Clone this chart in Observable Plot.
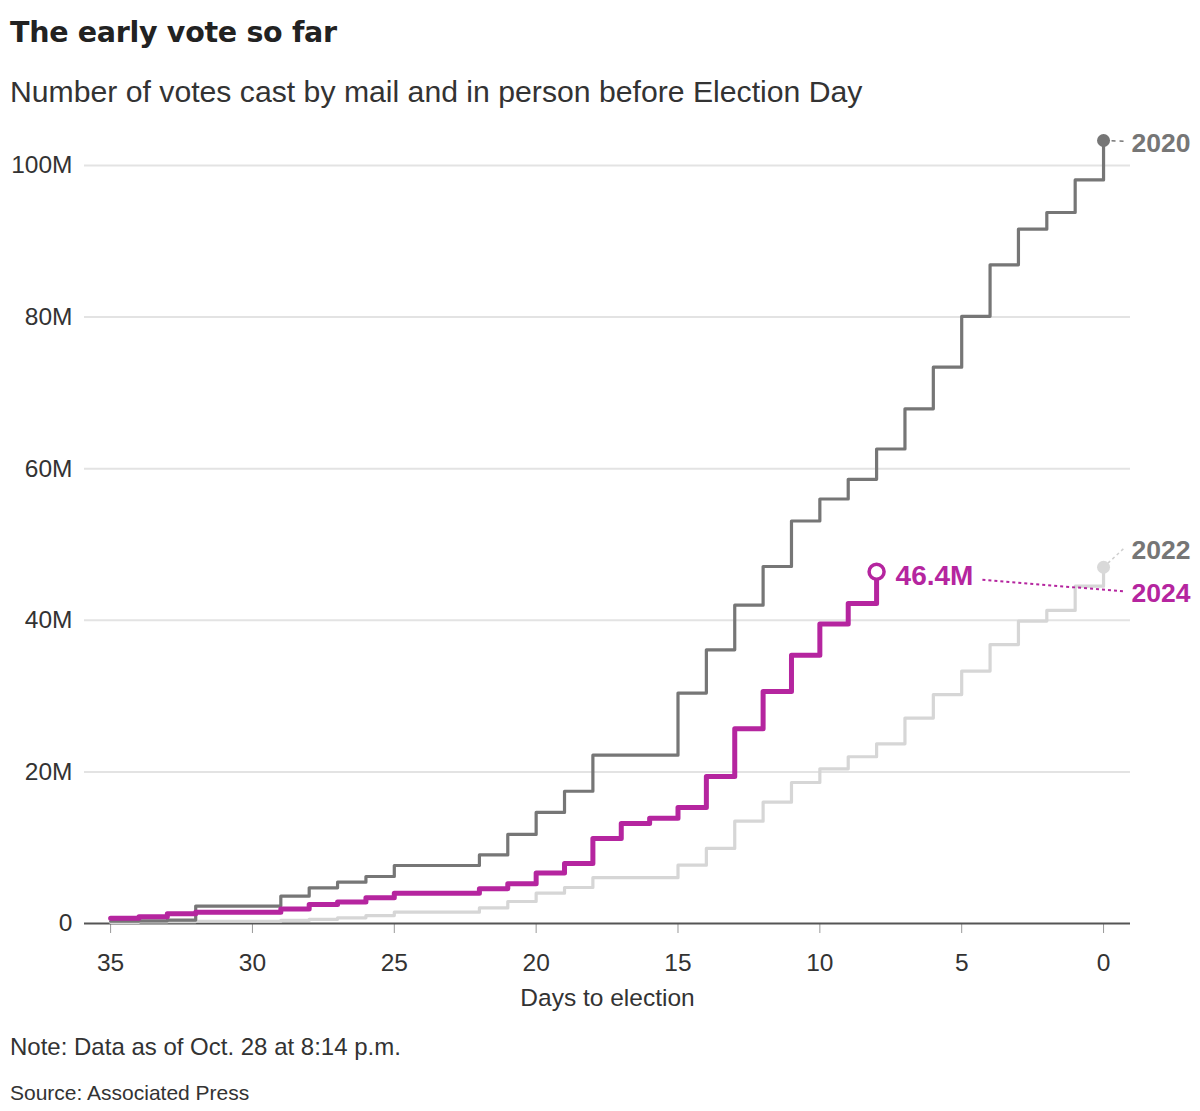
<!DOCTYPE html>
<html>
<head>
<meta charset="utf-8">
<script src="https://cdn.jsdelivr.net/npm/d3@7"></script>
<script src="https://cdn.jsdelivr.net/npm/@observablehq/plot@0.6"></script>
<style>
  body { margin: 0; background: #fff; width: 1200px; height: 1111px; position: relative; overflow: hidden; font-family: "Liberation Sans", Arial, sans-serif; color: #333; }
  #title { position: absolute; left: 10px; top: 19px; font: bold 28.5px/28.5px "DejaVu Sans", sans-serif; color: #222; letter-spacing: -0.3px; white-space: nowrap; }
  #subtitle { position: absolute; left: 10px; top: 77px; font: 30.2px/30.2px "Liberation Sans", Arial, sans-serif; color: #333; white-space: nowrap; }
  #chart { position: absolute; left: 0; top: 120px; }
  #note { position: absolute; left: 10px; top: 1035px; font: 24px/24px "Liberation Sans", Arial, sans-serif; color: #333; white-space: nowrap; }
  #source { position: absolute; left: 10px; top: 1082px; font: 21px/21px "Liberation Sans", Arial, sans-serif; color: #333; white-space: nowrap; }
</style>
</head>
<body>
<div id="title">The early vote so far</div>
<div id="subtitle">Number of votes cast by mail and in person before Election Day</div>
<div id="chart"></div>
<div id="note">Note: Data as of Oct. 28 at 8:14 p.m.</div>
<div id="source">Source: Associated Press</div>
<script>
// Days to election (35 -> 0)
const days = [35, 34, 33, 32, 31, 30, 29, 28, 27, 26, 25, 24, 23, 22, 21, 20, 19, 18,
              17, 16, 15, 14, 13, 12, 11, 10, 9, 8, 7, 6, 5, 4, 3, 2, 1, 0];
// Cumulative early votes, millions
const votes2020 = [0.3, 0.35, 0.45, 2.3, 2.3, 2.3, 3.6, 4.7, 5.45, 6.2, 7.65, 7.65, 7.65, 9.05,
                   11.75, 14.65, 17.45, 22.2, 22.2, 22.2, 30.4, 36.1, 42.0, 47.1, 53.1, 56.0,
                   58.6, 62.6, 67.9, 73.4, 80.1, 86.9, 91.6, 93.8, 98.1, 103.3];
const votes2022 = [0.15, 0.2, 0.25, 0.3, 0.3, 0.3, 0.4, 0.55, 0.75, 1.05, 1.5, 1.5, 1.5, 2.05,
                   2.9, 4.0, 4.75, 6.05, 6.05, 6.05, 7.7, 9.9, 13.5, 16.0, 18.6, 20.4, 22.0,
                   23.7, 27.1, 30.2, 33.3, 36.8, 39.9, 41.3, 44.5, 47.0];
const days2024 = [35, 34, 33, 32, 31, 30, 29, 28, 27, 26, 25, 24, 23, 22, 21, 20, 19, 18,
                  17, 16, 15, 14, 13, 12, 11, 10, 9, 8];
const votes2024 = [0.7, 0.9, 1.3, 1.5, 1.5, 1.5, 1.9, 2.5, 2.85, 3.4, 4.0, 4.0, 4.0, 4.6,
                   5.25, 6.65, 7.9, 11.2, 13.2, 13.9, 15.3, 19.4, 25.7, 30.6, 35.4, 39.5, 42.2, 46.4];
const xTicks = [35, 30, 25, 20, 15, 10, 5, 0];
const yTicks = [0, 20, 40, 60, 80, 100];
const lastLabel2024 = "46.4M";

const C2020 = "#767676", C2022 = "#d6d6d6", C2024 = "#b5259f";

const s2020 = days.map((d, i) => ({day: d, v: votes2020[i]}));
const s2022 = days.map((d, i) => ({day: d, v: votes2022[i]}));
const s2024 = days2024.map((d, i) => ({day: d, v: votes2024[i]}));
const end2020 = s2020[s2020.length - 1];
const end2022 = s2022[s2022.length - 1];
const end2024 = s2024[s2024.length - 1];

const chart = Plot.plot({
  width: 1200,
  height: 895,
  marginLeft: 84,
  marginRight: 70,
  marginTop: 45,
  marginBottom: 92,
  style: {fontFamily: "Liberation Sans, Arial, sans-serif", fontSize: "24.5px", color: "#333", background: "transparent", overflow: "visible"},
  x: {domain: [35.92, -0.95]},
  y: {domain: [0, 100]},
  marks: [
    Plot.ruleY(yTicks.filter(d => d > 0), {stroke: "#e3e3e3", strokeWidth: 2}),
    Plot.axisY({ticks: yTicks, tickSize: 0, tickPadding: 12, tickFormat: d => d === 0 ? "0" : d + "M", label: null, fill: "#333"}),
    Plot.axisX({ticks: xTicks, tickSize: 10, tickPadding: 20, stroke: "#999", fill: "#333",
                label: "Days to election", labelAnchor: "center", labelArrow: "none", labelOffset: 82}),
    Plot.ruleY([0], {stroke: "#555", strokeWidth: 2}),
    Plot.line(s2022, {x: "day", y: "v", curve: "step-after", stroke: C2022, strokeWidth: 3.2}),
    Plot.line(s2020, {x: "day", y: "v", curve: "step-after", stroke: C2020, strokeWidth: 3.2}),
    Plot.line(s2024, {x: "day", y: "v", curve: "step-after", stroke: C2024, strokeWidth: 5}),
    // connectors to labels
    Plot.link([end2020], {x1: "day", y1: "v", x2: -0.72, y2: d => d.v - 0.1, stroke: C2020, strokeWidth: 1.5, strokeDasharray: "4,4"}),
    Plot.link([end2022], {x1: "day", y1: "v", x2: -0.72, y2: d => d.v + 2.5, stroke: "#cfcfcf", strokeWidth: 1.5, strokeDasharray: "3,3"}),
    Plot.link([end2024], {x1: 4.27, y1: d => d.v - 1.06, x2: -0.78, y2: d => d.v - 2.6, stroke: C2024, strokeWidth: 2, strokeDasharray: "3,3"}),
    // end dots
    Plot.dot([end2020], {x: "day", y: "v", r: 6.5, fill: C2020}),
    Plot.dot([end2022], {x: "day", y: "v", r: 6.5, fill: "#d9d9d9"}),
    Plot.dot([end2024], {x: "day", y: "v", r: 7.5, fill: "white", stroke: C2024, strokeWidth: 3.5}),
    // labels
    Plot.text([end2020], {x: "day", y: "v", text: () => "2020", dx: 28, dy: 3, textAnchor: "start", fill: C2020, fontWeight: "bold", fontSize: 26.5}),
    Plot.text([end2022], {x: "day", y: d => d.v + 2.2, text: () => "2022", dx: 28, textAnchor: "start", fill: C2020, fontWeight: "bold", fontSize: 26.5}),
    Plot.text([end2024], {x: 0, y: d => d.v - 2.9, text: () => "2024", dx: 28, textAnchor: "start", fill: C2024, fontWeight: "bold", fontSize: 26.5}),
    Plot.text([end2024], {x: "day", y: "v", text: () => lastLabel2024, dx: 19, dy: 4, textAnchor: "start", fill: C2024, fontWeight: "bold", fontSize: 28})
  ]
});
document.getElementById("chart").appendChild(chart);
</script>
</body>
</html>
